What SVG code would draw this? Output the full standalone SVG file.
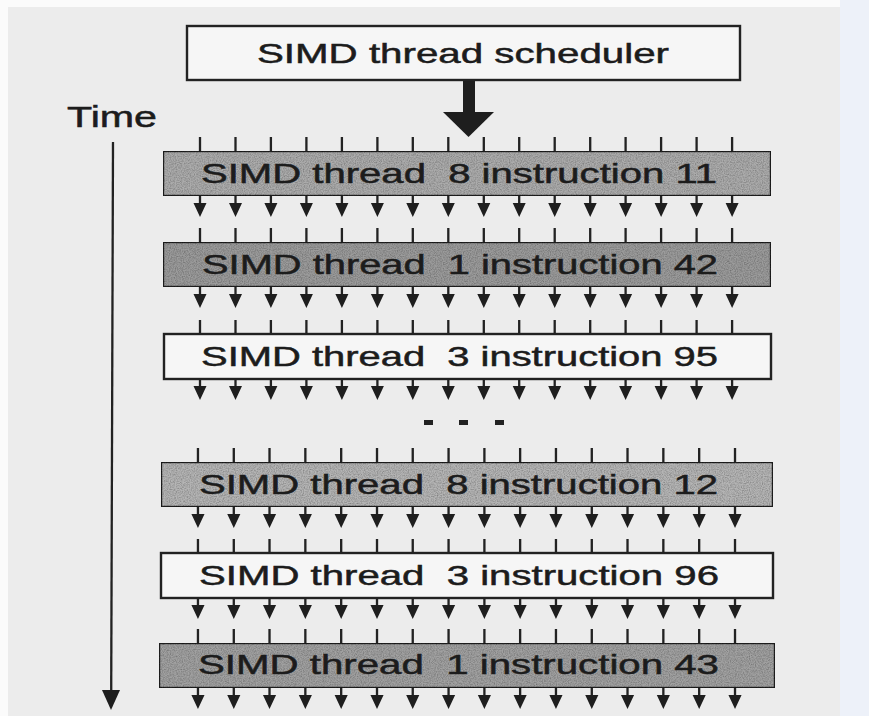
<svg xmlns="http://www.w3.org/2000/svg" xmlns:xlink="http://www.w3.org/1999/xlink" width="869" height="716" viewBox="0 0 869 716">
  <style>
    .label { font-family: "Liberation Sans", Arial, Helvetica, sans-serif; font-size: 28px; fill: #1c1c1c; stroke: #1c1c1c; stroke-width: 0.5; }
    .box { stroke: #222; stroke-width: 2.4; }
    .plain { fill: #f6f6f6; }
    .wire { fill: none; stroke: #222; stroke-width: 2.3; }
    .head { fill: #1e1e1e; stroke: none; }
  </style>
  <defs>
    <!-- paper-like speckle for the shaded instruction bars -->
    <filter id="grain" x="0" y="0" width="100%" height="100%">
      <feTurbulence type="fractalNoise" baseFrequency="0.85" numOctaves="2" seed="7" result="noise"/>
      <feColorMatrix in="noise" type="matrix" values="0 0 0 0 0  0 0 0 0 0  0 0 0 0 0  0 0 0 0.9 -0.3" result="speck"/>
      <feComposite in="speck" in2="SourceGraphic" operator="in" result="dots"/>
      <feMerge>
        <feMergeNode in="SourceGraphic"/>
        <feMergeNode in="dots"/>
      </feMerge>
    </filter>
    <!-- 16 SIMD lanes entering a bar (ticks above it) -->
    <path id="lanes-in" class="wire" d="M200 0v14M235.5 0v14M270.9 0v14M306.4 0v14M341.9 0v14M377.4 0v14M412.8 0v14M448.3 0v14M483.8 0v14M519.2 0v14M554.7 0v14M590.2 0v14M625.6 0v14M661.1 0v14M696.6 0v14M732.1 0v14"/>
    <!-- 16 SIMD lanes leaving a bar (arrows below it) -->
    <g id="lanes-out">
      <path class="wire" d="M200 0v9M235.5 0v9M270.9 0v9M306.4 0v9M341.9 0v9M377.4 0v9M412.8 0v9M448.3 0v9M483.8 0v9M519.2 0v9M554.7 0v9M590.2 0v9M625.6 0v9M661.1 0v9M696.6 0v9M732.1 0v9"/>
      <path class="head" d="M193.5 7h13l-6.5 14zM229 7h13l-6.5 14zM264.4 7h13l-6.5 14zM299.9 7h13l-6.5 14zM335.4 7h13l-6.5 14zM370.9 7h13l-6.5 14zM406.3 7h13l-6.5 14zM441.8 7h13l-6.5 14zM477.3 7h13l-6.5 14zM512.7 7h13l-6.5 14zM548.2 7h13l-6.5 14zM583.7 7h13l-6.5 14zM619.1 7h13l-6.5 14zM654.6 7h13l-6.5 14zM690.1 7h13l-6.5 14zM725.6 7h13l-6.5 14z"/>
    </g>
  </defs>

  <!-- page background -->
  <rect x="0" y="0" width="869" height="716" fill="#fbfbfb"/>
  <rect x="8" y="7" width="832" height="709" fill="#ececec"/>
  <rect x="840" y="0" width="29" height="716" fill="#edf1f9"/>

  <!-- connectors -->
  <g id="connectors">
    <!-- time axis -->
    <path class="wire" d="M113 142L111.2 692"/>
    <path class="head" d="M102 690h18l-9 20z"/>
    <!-- scheduler issue arrow -->
    <rect class="head" x="463" y="80" width="12" height="33"/>
    <path class="head" d="M443 112h51l-25.5 25z"/>
    <!-- lanes per issued instruction -->
    <use xlink:href="#lanes-in" transform="translate(0 137)"/>
    <use xlink:href="#lanes-out" transform="translate(0 196)"/>
    <use xlink:href="#lanes-in" transform="translate(0 228)"/>
    <use xlink:href="#lanes-out" transform="translate(0 287)"/>
    <use xlink:href="#lanes-in" transform="translate(0 320)"/>
    <use xlink:href="#lanes-out" transform="translate(0 379)"/>
    <use xlink:href="#lanes-in" transform="matrix(1.0093 0 0 1 -3.9 448)"/>
    <use xlink:href="#lanes-out" transform="matrix(1.0093 0 0 1 -3.9 507)"/>
    <use xlink:href="#lanes-in" transform="matrix(1.0093 0 0 1 -3.9 539)"/>
    <use xlink:href="#lanes-out" transform="matrix(1.0093 0 0 1 -3.9 598)"/>
    <use xlink:href="#lanes-in" transform="matrix(1.0093 0 0 1 -3.9 629)"/>
    <use xlink:href="#lanes-out" transform="matrix(1.0093 0 0 1 -3.9 688)"/>
  </g>

  <g id="scheduler">
    <rect class="box plain" x="187" y="26" width="553" height="54"/>
    <text class="label" x="257" y="63" textLength="412" lengthAdjust="spacingAndGlyphs">SIMD thread scheduler</text>
  </g>

  <g id="time-label">
    <text class="label" x="67" y="127" style="font-size:29px" textLength="90" lengthAdjust="spacingAndGlyphs">Time</text>
  </g>

  <g id="bar-1">
    <rect class="box" x="163" y="151" width="608" height="45" fill="#acacac" filter="url(#grain)"/>
    <text class="label" x="201" y="183" xml:space="preserve" textLength="516" lengthAdjust="spacingAndGlyphs">SIMD thread  8 instruction 11</text>
  </g>

  <g id="bar-2">
    <rect class="box" x="163" y="242" width="608" height="45" fill="#9b9b9b" filter="url(#grain)"/>
    <text class="label" x="202" y="274" xml:space="preserve" textLength="516" lengthAdjust="spacingAndGlyphs">SIMD thread  1 instruction 42</text>
  </g>

  <g id="bar-3">
    <rect class="box plain" x="164" y="334" width="607" height="45"/>
    <text class="label" x="201" y="366" xml:space="preserve" textLength="517" lengthAdjust="spacingAndGlyphs">SIMD thread  3 instruction 95</text>
  </g>

  <g id="ellipsis" fill="#222">
    <rect x="424" y="420" width="9" height="5"/>
    <rect x="459" y="420" width="9" height="5"/>
    <rect x="495" y="420" width="9" height="5"/>
  </g>

  <g id="bar-4">
    <rect class="box" x="161" y="462" width="612" height="45" fill="#b5b5b5" filter="url(#grain)"/>
    <text class="label" x="199" y="494" xml:space="preserve" textLength="519" lengthAdjust="spacingAndGlyphs">SIMD thread  8 instruction 12</text>
  </g>

  <g id="bar-5">
    <rect class="box plain" x="161" y="553" width="612" height="45"/>
    <text class="label" x="199" y="585" xml:space="preserve" textLength="520" lengthAdjust="spacingAndGlyphs">SIMD thread  3 instruction 96</text>
  </g>

  <g id="bar-6">
    <rect class="box" x="159" y="643" width="616" height="45" fill="#a1a1a1" filter="url(#grain)"/>
    <text class="label" x="198" y="674" xml:space="preserve" textLength="521" lengthAdjust="spacingAndGlyphs">SIMD thread  1 instruction 43</text>
  </g>
</svg>
